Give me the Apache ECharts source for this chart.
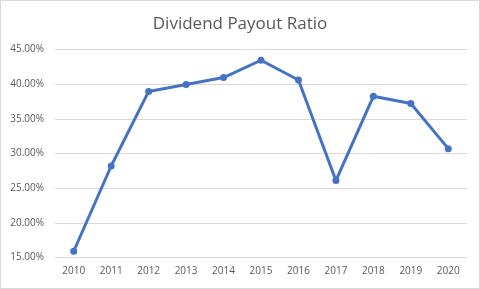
<!DOCTYPE html>
<html>
<head>
<meta charset="utf-8">
<script src="https://cdn.jsdelivr.net/npm/echarts@6/dist/echarts.min.js"></script>
<style>
html,body{margin:0;padding:0;background:#fff;}
#wrap{position:absolute;left:0;top:0;width:478px;height:287px;border:1px solid #d9d9d9;}
#chart{width:478px;height:287px;}
</style>
</head>
<body>
<div id="wrap"><div id="chart"></div></div>
<script>
const titleText = "Dividend Payout Ratio";
const years = ["2010","2011","2012","2013","2014","2015","2016","2017","2018","2019","2020"];
const payoutRatio = [15.9, 28.2, 38.95, 39.95, 40.95, 43.45, 40.6, 26.1, 38.25, 37.2, 30.7];
const yTicks = [15, 20, 25, 30, 35, 40, 45];

const chart = echarts.init(document.getElementById('chart'), null, {renderer:'canvas'});
chart.setOption({
  animation: false,
  title: {
    text: titleText,
    left: 'center',
    top: 10,
    textStyle: {fontFamily: 'Open Sans', fontSize: 17, fontWeight: 'normal', color: '#595959'}
  },
  grid: {left: 54, right: 12, top: 48.5, bottom: 30.5},
  xAxis: {
    type: 'category',
    data: years,
    boundaryGap: true,
    axisLine: {lineStyle: {color: '#d9d9d9', width: 1}},
    axisTick: {show: false},
    axisLabel: {fontFamily: 'Open Sans', fontSize: 10, color: '#595959', margin: 9}
  },
  yAxis: {
    type: 'value',
    min: yTicks[0],
    max: yTicks[yTicks.length - 1],
    interval: 5,
    axisLine: {show: false},
    axisTick: {show: false},
    splitLine: {lineStyle: {color: '#d9d9d9', width: 1}},
    axisLabel: {fontFamily: 'Open Sans', fontSize: 10, color: '#595959', margin: 11,
      formatter: v => v.toFixed(2) + '%'}
  },
  series: [{
    type: 'line',
    data: payoutRatio,
    symbol: 'circle',
    symbolSize: 7,
    lineStyle: {color: '#4472C4', width: 3},
    itemStyle: {color: '#4472C4'}
  }]
});
</script>
</body>
</html>
